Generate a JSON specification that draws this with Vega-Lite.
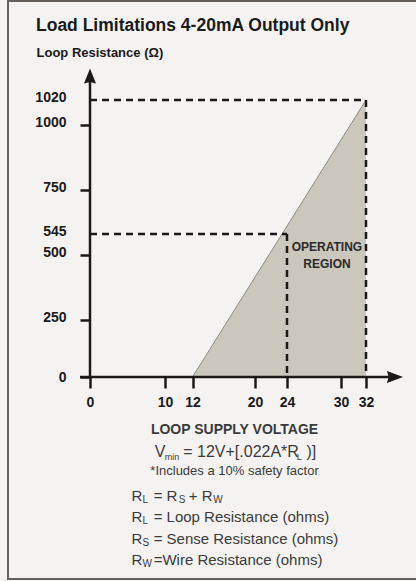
{
  "$schema": "https://vega.github.io/schema/vega-lite/v6.json",
  "autosize": {"type": "none"},
  "padding": {"left": 8, "top": 1, "right": -3, "bottom": 2},
  "width": 411,
  "height": 578,
  "background": "#f4f3f1",
  "config": {
    "view": {"stroke": "#66615a", "strokeWidth": 2, "fill": "#f4f3f1"}
  },
  "title": {
    "text": "Load Limitations 4-20mA Output Only",
    "anchor": "start",
    "frame": "group",
    "font": "Liberation Sans",
    "fontSize": 17.5,
    "fontWeight": "bold",
    "color": "#1a1a1a",
    "baseline": "alphabetic",
    "offset": 0,
    "dx": 28,
    "dy": 47
  },
  "datasets": {
    "tri": [{"v": 12, "r": 0}, {"v": 32, "r": 1020}],
    "axes": [
      {"v": -1.4, "v2": 35, "r": 0, "r2": 0},
      {"v": 0, "v2": 0, "r": 0, "r2": 1080}
    ],
    "arrows": [
      {"v": 0, "r": 1080, "dir": "up"},
      {"v": 35, "r": 0, "dir": "right"}
    ],
    "guides": [
      {"v": 0, "v2": 32, "r": 1020, "r2": 1020},
      {"v": 32, "v2": 32, "r": 1020, "r2": 0},
      {"v": 0, "v2": 24, "r": 545, "r2": 545},
      {"v": 24, "v2": 24, "r": 545, "r2": 0}
    ],
    "region": [{"v": 28.44, "r": 517, "label": "OPERATING REGION"}],
    "notes": [
      {"line": 1, "main": "V\u00a0\u00a0\u00a0\u00a0= 12V+[.022A*R\u00a0\u2009)]", "sub": "\u200b\u00a0\u00a0\u00a0\u00a0min\u00a0\u00a0\u00a0\u00a0\u00a0\u00a0\u00a0\u00a0\u00a0\u00a0\u00a0\u00a0\u00a0\u00a0\u00a0\u00a0\u00a0\u00a0\u00a0\u00a0\u00a0\u00a0\u00a0\u00a0\u00a0\u00a0\u00a0\u00a0\u00a0\u00a0\u00a0\u00a0\u00a0\u00a0\u00a0\u00a0\u00a0\u00a0\u00a0\u00a0\u00a0\u00a0\u00a0\u00a0\u00a0\u00a0\u00a0L"},
      {"line": 2, "main": "*Includes a 10% safety factor", "sub": ""},
      {"line": 3, "main": "R\u00a0\u00a0\u2009= R\u00a0\u00a0\u2009+ R", "sub": "\u200b\u00a0\u00a0\u00a0\u00a0L\u00a0\u00a0\u00a0\u00a0\u00a0\u00a0\u00a0\u00a0\u00a0\u00a0\u00a0S\u00a0\u00a0\u00a0\u00a0\u00a0\u00a0\u00a0\u00a0\u00a0\u00a0W"},
      {"line": 4, "main": "R\u00a0\u00a0\u2009= Loop Resistance (ohms)", "sub": "\u200b\u00a0\u00a0\u00a0\u00a0L"},
      {"line": 5, "main": "R\u00a0\u00a0\u2009= Sense Resistance (ohms)", "sub": "\u200b\u00a0\u00a0\u00a0\u00a0S"},
      {"line": 6, "main": "R\u00a0\u00a0\u2009=Wire Resistance (ohms)", "sub": "\u200b\u00a0\u00a0\u00a0\u00a0W"}
    ]
  },
  "layer": [
    {
      "layer": [
        {
          "data": {"name": "tri"},
          "mark": {"type": "area", "color": "#cbc7bd", "opacity": 1},
          "encoding": {
            "x": {
              "field": "v", "type": "quantitative",
              "scale": {"type": "linear", "domain": [-1.4, 0, 10, 12, 20, 24, 30, 32, 35], "range": [72, 82, 157, 184.5, 247, 279, 333, 358, 387], "nice": false, "zero": false},
              "axis": {
                "orient": "bottom", "offset": -202,
                "values": [0, 10, 12, 20, 24, 30, 32],
                "format": "d",
                "grid": false,
                "domain": false,
                "tickColor": "#1a1a1a", "tickWidth": 2.5, "tickSize": 11,
                "labelFont": "Liberation Sans",
                "labelFontWeight": "bold", "labelFontSize": 14, "labelColor": "#1a1a1a",
                "labelPadding": 7, "labelBaseline": "top", "labelFlush": false, "labelOverlap": false,
                "title": "LOOP SUPPLY VOLTAGE",
                "titleFont": "Liberation Sans", "titleFontSize": 14, "titleFontWeight": "bold", "titleColor": "#3b3b3b",
                "titleX": 226, "titleY": 52, "titleAlign": "center", "titleBaseline": "middle", "titleAngle": 0,
                "zindex": 1
              }
            },
            "y": {
              "field": "r", "type": "quantitative",
              "scale": {"type": "linear", "domain": [0, 250, 500, 545, 750, 1000, 1020, 1080], "range": [376, 319, 254, 233, 189, 124, 99, 75], "nice": false, "zero": false},
              "axis": {
                "orient": "left", "offset": -82,
                "values": [0, 250, 500, 545, 750, 1000, 1020],
                "format": "d",
                "grid": false,
                "domain": false,
                "tickColor": "#1a1a1a", "tickWidth": 2.5, "tickSize": 10,
                "tickOpacity": {"condition": {"test": "datum.value === 545 || datum.value === 1020", "value": 0}, "value": 1},
                "labelFont": "Liberation Sans",
                "labelFontWeight": "bold", "labelFontSize": 14, "labelColor": "#1a1a1a",
                "labelPadding": 14, "labelBaseline": "middle", "labelAlign": "right",
                "labelOffset": {"condition": {"test": "datum.value === 0", "value": 0}, "value": -3},
                "labelFlush": false, "labelOverlap": false,
                "title": "Loop Resistance (\u03a9)",
                "titleFont": "Liberation Sans",
                "titleFontSize": 13, "titleFontWeight": "bold", "titleColor": "#1a1a1a",
                "titleAngle": 0, "titleX": -54, "titleY": 51, "titleAlign": "left", "titleBaseline": "middle",
                "zindex": 1
              }
            },
            "y2": {"datum": 0}
          }
        },
        {
          "data": {"name": "tri"},
          "mark": {"type": "line", "color": "#8e8a83", "strokeWidth": 1},
          "encoding": {
            "x": {"field": "v", "type": "quantitative"},
            "y": {"field": "r", "type": "quantitative"}
          }
        },
        {
          "data": {"name": "guides"},
          "mark": {"type": "rule", "color": "#1a1a1a", "strokeWidth": 2.5, "strokeDash": [7, 5]},
          "encoding": {
            "x": {"field": "v", "type": "quantitative"},
            "x2": {"field": "v2"},
            "y": {"field": "r", "type": "quantitative"},
            "y2": {"field": "r2"}
          }
        },
        {
          "data": {"name": "axes"},
          "mark": {"type": "rule", "color": "#1a1a1a", "strokeWidth": 2.5},
          "encoding": {
            "x": {"field": "v", "type": "quantitative"},
            "x2": {"field": "v2"},
            "y": {"field": "r", "type": "quantitative"},
            "y2": {"field": "r2"}
          }
        },
        {
          "data": {"name": "region"},
          "mark": {"type": "text", "font": "Liberation Sans", "fontWeight": "bold", "fontSize": 12, "color": "#2a2a2a", "align": "center", "baseline": "middle", "lineBreak": " ", "lineHeight": 17},
          "encoding": {
            "x": {"field": "v", "type": "quantitative"},
            "y": {"field": "r", "type": "quantitative"},
            "text": {"field": "label"}
          }
        },
        {
          "data": {"name": "arrows"},
          "mark": {"type": "point", "filled": true, "size": 225, "color": "#1a1a1a", "opacity": 1},
          "encoding": {
            "x": {"field": "v", "type": "quantitative"},
            "y": {"field": "r", "type": "quantitative"},
            "shape": {"field": "dir", "type": "nominal", "scale": {"domain": ["up", "right"], "range": ["M0,-1L0.8,1L0,0.8L-0.8,1Z", "M1.07,0L-1.07,0.8L-0.85,0L-1.07,-0.8Z"]}, "legend": null}
          }
        }
      ]
    },
    {
      "data": {"name": "notes"},
      "layer": [
        {
          "transform": [{"filter": "datum.line === 1"}],
          "mark": {"type": "text", "font": "Liberation Sans", "fontSize": 16, "color": "#3b3b3b", "align": "left", "baseline": "middle"},
          "encoding": {
            "x": {"datum": 8.64, "type": "quantitative"},
            "y": {"field": "line", "type": "quantitative", "scale": {"type": "linear", "domain": [1, 2, 3, 4, 5, 6], "range": [451, 470, 495, 516, 538, 559], "nice": false, "zero": false}, "axis": null},
            "text": {"field": "main"}
          }
        },
        {
          "transform": [{"filter": "datum.line === 1"}],
          "mark": {"type": "text", "font": "Liberation Sans", "fontSize": 9, "color": "#3b3b3b", "align": "left", "baseline": "middle", "dy": 5},
          "encoding": {
            "x": {"datum": 8.64, "type": "quantitative"},
            "y": {"field": "line", "type": "quantitative"},
            "text": {"field": "sub"}
          }
        },
        {
          "transform": [{"filter": "datum.line === 2"}],
          "mark": {"type": "text", "font": "Liberation Sans", "fontSize": 13, "color": "#3b3b3b", "align": "center", "baseline": "middle"},
          "encoding": {
            "x": {"datum": 17.38, "type": "quantitative"},
            "y": {"field": "line", "type": "quantitative"},
            "text": {"field": "main"}
          }
        },
        {
          "transform": [{"filter": "datum.line >= 3"}],
          "mark": {"type": "text", "font": "Liberation Sans", "fontSize": 15, "color": "#3b3b3b", "align": "left", "baseline": "middle"},
          "encoding": {
            "x": {"datum": 5.53, "type": "quantitative"},
            "y": {"field": "line", "type": "quantitative"},
            "text": {"field": "main"}
          }
        },
        {
          "transform": [{"filter": "datum.line >= 3"}],
          "mark": {"type": "text", "font": "Liberation Sans", "fontSize": 10, "color": "#3b3b3b", "align": "left", "baseline": "middle", "dy": 4},
          "encoding": {
            "x": {"datum": 5.53, "type": "quantitative"},
            "y": {"field": "line", "type": "quantitative"},
            "text": {"field": "sub"}
          }
        }
      ]
    }
  ],
  "resolve": {"scale": {"y": "independent"}, "axis": {"y": "independent"}}
}
